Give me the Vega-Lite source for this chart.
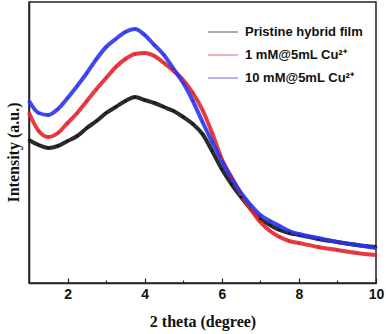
{
  "$schema": "https://vega.github.io/schema/vega-lite/v6.json",
  "width": 347,
  "height": 281,
  "autosize": {"type": "none"},
  "padding": {"left": 29, "top": 2, "right": 10, "bottom": 51},
  "background": "white",
  "config": {
    "view": {"stroke": "#222222", "strokeWidth": 1.5},
    "axis": {"grid": false}
  },
  "data": {
    "values": [
      {"x": 1.0, "v": 143, "s": "Pristine hybrid film"},
      {"x": 1.25, "v": 138, "s": "Pristine hybrid film"},
      {"x": 1.5, "v": 135, "s": "Pristine hybrid film"},
      {"x": 1.75, "v": 137, "s": "Pristine hybrid film"},
      {"x": 2.0, "v": 142, "s": "Pristine hybrid film"},
      {"x": 2.25, "v": 147, "s": "Pristine hybrid film"},
      {"x": 2.5, "v": 155, "s": "Pristine hybrid film"},
      {"x": 2.75, "v": 162, "s": "Pristine hybrid film"},
      {"x": 3.0, "v": 170, "s": "Pristine hybrid film"},
      {"x": 3.25, "v": 176, "s": "Pristine hybrid film"},
      {"x": 3.5, "v": 182, "s": "Pristine hybrid film"},
      {"x": 3.75, "v": 186, "s": "Pristine hybrid film"},
      {"x": 4.0, "v": 183, "s": "Pristine hybrid film"},
      {"x": 4.25, "v": 180, "s": "Pristine hybrid film"},
      {"x": 4.5, "v": 176, "s": "Pristine hybrid film"},
      {"x": 4.75, "v": 172, "s": "Pristine hybrid film"},
      {"x": 5.0, "v": 166, "s": "Pristine hybrid film"},
      {"x": 5.25, "v": 159, "s": "Pristine hybrid film"},
      {"x": 5.5, "v": 149, "s": "Pristine hybrid film"},
      {"x": 5.75, "v": 132, "s": "Pristine hybrid film"},
      {"x": 6.0, "v": 114, "s": "Pristine hybrid film"},
      {"x": 6.25, "v": 99, "s": "Pristine hybrid film"},
      {"x": 6.5, "v": 86, "s": "Pristine hybrid film"},
      {"x": 6.75, "v": 74, "s": "Pristine hybrid film"},
      {"x": 7.0, "v": 64, "s": "Pristine hybrid film"},
      {"x": 7.25, "v": 58, "s": "Pristine hybrid film"},
      {"x": 7.5, "v": 53, "s": "Pristine hybrid film"},
      {"x": 7.75, "v": 50, "s": "Pristine hybrid film"},
      {"x": 8.0, "v": 48, "s": "Pristine hybrid film"},
      {"x": 8.5, "v": 44, "s": "Pristine hybrid film"},
      {"x": 9.0, "v": 41, "s": "Pristine hybrid film"},
      {"x": 9.5, "v": 38, "s": "Pristine hybrid film"},
      {"x": 10.0, "v": 36, "s": "Pristine hybrid film"},
      {"x": 1.0, "v": 170, "s": "1 mM@5mL Cu²⁺"},
      {"x": 1.25, "v": 152, "s": "1 mM@5mL Cu²⁺"},
      {"x": 1.5, "v": 146, "s": "1 mM@5mL Cu²⁺"},
      {"x": 1.75, "v": 150, "s": "1 mM@5mL Cu²⁺"},
      {"x": 2.0, "v": 160, "s": "1 mM@5mL Cu²⁺"},
      {"x": 2.25, "v": 170, "s": "1 mM@5mL Cu²⁺"},
      {"x": 2.5, "v": 182, "s": "1 mM@5mL Cu²⁺"},
      {"x": 2.75, "v": 194, "s": "1 mM@5mL Cu²⁺"},
      {"x": 3.0, "v": 205, "s": "1 mM@5mL Cu²⁺"},
      {"x": 3.25, "v": 216, "s": "1 mM@5mL Cu²⁺"},
      {"x": 3.5, "v": 224, "s": "1 mM@5mL Cu²⁺"},
      {"x": 3.75, "v": 229, "s": "1 mM@5mL Cu²⁺"},
      {"x": 4.0, "v": 230, "s": "1 mM@5mL Cu²⁺"},
      {"x": 4.25, "v": 227, "s": "1 mM@5mL Cu²⁺"},
      {"x": 4.5, "v": 220, "s": "1 mM@5mL Cu²⁺"},
      {"x": 4.75, "v": 212, "s": "1 mM@5mL Cu²⁺"},
      {"x": 5.0, "v": 203, "s": "1 mM@5mL Cu²⁺"},
      {"x": 5.25, "v": 190, "s": "1 mM@5mL Cu²⁺"},
      {"x": 5.5, "v": 173, "s": "1 mM@5mL Cu²⁺"},
      {"x": 5.75, "v": 150, "s": "1 mM@5mL Cu²⁺"},
      {"x": 6.0, "v": 124, "s": "1 mM@5mL Cu²⁺"},
      {"x": 6.25, "v": 106, "s": "1 mM@5mL Cu²⁺"},
      {"x": 6.5, "v": 89, "s": "1 mM@5mL Cu²⁺"},
      {"x": 6.75, "v": 74, "s": "1 mM@5mL Cu²⁺"},
      {"x": 7.0, "v": 61, "s": "1 mM@5mL Cu²⁺"},
      {"x": 7.25, "v": 52, "s": "1 mM@5mL Cu²⁺"},
      {"x": 7.5, "v": 46, "s": "1 mM@5mL Cu²⁺"},
      {"x": 7.75, "v": 42, "s": "1 mM@5mL Cu²⁺"},
      {"x": 8.0, "v": 40, "s": "1 mM@5mL Cu²⁺"},
      {"x": 8.5, "v": 36, "s": "1 mM@5mL Cu²⁺"},
      {"x": 9.0, "v": 33, "s": "1 mM@5mL Cu²⁺"},
      {"x": 9.5, "v": 30, "s": "1 mM@5mL Cu²⁺"},
      {"x": 10.0, "v": 28, "s": "1 mM@5mL Cu²⁺"},
      {"x": 1.0, "v": 182, "s": "10 mM@5mL Cu²⁺"},
      {"x": 1.25, "v": 170, "s": "10 mM@5mL Cu²⁺"},
      {"x": 1.5, "v": 168, "s": "10 mM@5mL Cu²⁺"},
      {"x": 1.75, "v": 174, "s": "10 mM@5mL Cu²⁺"},
      {"x": 2.0, "v": 185, "s": "10 mM@5mL Cu²⁺"},
      {"x": 2.25, "v": 197, "s": "10 mM@5mL Cu²⁺"},
      {"x": 2.5, "v": 210, "s": "10 mM@5mL Cu²⁺"},
      {"x": 2.75, "v": 224, "s": "10 mM@5mL Cu²⁺"},
      {"x": 3.0, "v": 236, "s": "10 mM@5mL Cu²⁺"},
      {"x": 3.25, "v": 244, "s": "10 mM@5mL Cu²⁺"},
      {"x": 3.5, "v": 251, "s": "10 mM@5mL Cu²⁺"},
      {"x": 3.75, "v": 254, "s": "10 mM@5mL Cu²⁺"},
      {"x": 4.0, "v": 248, "s": "10 mM@5mL Cu²⁺"},
      {"x": 4.25, "v": 238, "s": "10 mM@5mL Cu²⁺"},
      {"x": 4.5, "v": 228, "s": "10 mM@5mL Cu²⁺"},
      {"x": 4.75, "v": 214, "s": "10 mM@5mL Cu²⁺"},
      {"x": 5.0, "v": 200, "s": "10 mM@5mL Cu²⁺"},
      {"x": 5.25, "v": 182, "s": "10 mM@5mL Cu²⁺"},
      {"x": 5.5, "v": 161, "s": "10 mM@5mL Cu²⁺"},
      {"x": 5.75, "v": 141, "s": "10 mM@5mL Cu²⁺"},
      {"x": 6.0, "v": 122, "s": "10 mM@5mL Cu²⁺"},
      {"x": 6.25, "v": 105, "s": "10 mM@5mL Cu²⁺"},
      {"x": 6.5, "v": 90, "s": "10 mM@5mL Cu²⁺"},
      {"x": 6.75, "v": 78, "s": "10 mM@5mL Cu²⁺"},
      {"x": 7.0, "v": 68, "s": "10 mM@5mL Cu²⁺"},
      {"x": 7.25, "v": 62, "s": "10 mM@5mL Cu²⁺"},
      {"x": 7.5, "v": 57, "s": "10 mM@5mL Cu²⁺"},
      {"x": 7.75, "v": 52, "s": "10 mM@5mL Cu²⁺"},
      {"x": 8.0, "v": 49, "s": "10 mM@5mL Cu²⁺"},
      {"x": 8.5, "v": 45, "s": "10 mM@5mL Cu²⁺"},
      {"x": 9.0, "v": 41, "s": "10 mM@5mL Cu²⁺"},
      {"x": 9.5, "v": 38, "s": "10 mM@5mL Cu²⁺"},
      {"x": 10.0, "v": 35, "s": "10 mM@5mL Cu²⁺"}
    ]
  },
  "layer": [
    {
      "mark": {"type": "line", "strokeWidth": 4, "interpolate": "monotone", "opacity": 0.9},
      "encoding": {
        "x": {
          "field": "x", "type": "quantitative",
          "scale": {"domain": [1, 10], "nice": false, "zero": false},
          "axis": {
            "values": [2, 4, 6, 8, 10],
            "title": "2 theta (degree)",
            "titleFont": "Liberation Serif", "titleFontSize": 16, "titleFontWeight": "bold", "titleColor": "#111",
            "titlePadding": 12,
            "labelFont": "Liberation Sans", "labelFontSize": 14, "labelFontWeight": "bold", "labelColor": "#111",
            "labelPadding": 9, "labelFlush": false,
            "tickSize": -5, "tickColor": "#222", "tickWidth": 1.2,
            "domainColor": "#222", "domainWidth": 1.5
          }
        },
        "y": {
          "field": "v", "type": "quantitative",
          "scale": {"domain": [0, 281], "nice": false, "zero": false},
          "axis": {
            "title": "Intensity (a.u.)",
            "titleFont": "Liberation Serif", "titleFontSize": 16, "titleFontWeight": "bold", "titleColor": "#111",
            "titlePadding": 8, "titleY": 150,
            "labels": false, "ticks": false,
            "domainColor": "#222", "domainWidth": 1.5
          }
        },
        "color": {
          "field": "s", "type": "nominal",
          "scale": {
            "domain": ["Pristine hybrid film", "1 mM@5mL Cu²⁺", "10 mM@5mL Cu²⁺"],
            "range": ["#141414", "#e3262e", "#2b35ee"]
          },
          "legend": {
            "title": null,
            "orient": "none", "legendX": 178, "legendY": 14,
            "symbolType": "stroke", "symbolSize": 900, "symbolStrokeWidth": 1.2, "symbolOpacity": 0.6,
            "labelFont": "Liberation Sans", "labelFontSize": 13, "labelFontWeight": "bold", "labelColor": "#111",
            "labelOffset": 6, "rowPadding": -1
          }
        }
      }
    },
    {
      "mark": {"type": "point", "filled": true, "size": 7, "opacity": 1},
      "encoding": {
        "x": {
          "field": "x", "type": "quantitative",
          "axis": {
            "values": [3, 5, 7, 9], "orient": "bottom",
            "labels": false, "title": null, "domain": false,
            "tickSize": -3, "tickColor": "#222", "tickWidth": 1.2
          }
        },
        "y": {"field": "v", "type": "quantitative"},
        "color": {"field": "s", "type": "nominal", "legend": null}
      }
    }
  ],
  "resolve": {"axis": {"x": "independent"}}
}
